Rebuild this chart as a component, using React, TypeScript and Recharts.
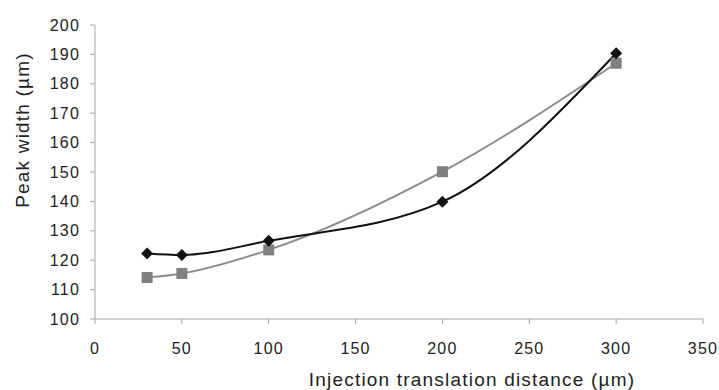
import React from 'react';
import { LineChart, Line, XAxis, YAxis } from 'recharts';

// distance (µm) and peak widths (µm) for the two runs
const distances = [30, 50, 100, 200, 300];
const diamondWidths = [122.3, 121.8, 126.6, 139.9, 190.4];
const squareWidths = [114.1, 115.5, 123.5, 150.1, 187.0];

const xTicks = [0, 50, 100, 150, 200, 250, 300, 350];
const yTicks = [100, 110, 120, 130, 140, 150, 160, 170, 180, 190, 200];

const data = distances.map((d, i) => ({
  distance: d,
  diamond: diamondWidths[i],
  square: squareWidths[i],
}));

const FONT = 'Liberation Sans, Arial, sans-serif';
const AXIS = '#a6a6a6';

const XTick = (props: any) => (
  <text x={props.x} y={props.y} dy={28} textAnchor="middle" fontFamily={FONT} fontSize={16} letterSpacing={1.2} fill="#222">
    {props.payload.value}
  </text>
);

const YTick = (props: any) => (
  <text x={props.x - 8} y={props.y} dy={5.5} textAnchor="end" fontFamily={FONT} fontSize={16} letterSpacing={1.2} fill="#222">
    {props.payload.value}
  </text>
);

const Diamond = (props: any) => {
  const { cx, cy } = props;
  if (cx == null || cy == null) return null;
  const r = 6;
  return <polygon points={`${cx},${cy - r} ${cx + r},${cy} ${cx},${cy + r} ${cx - r},${cy}`} fill="#111" />;
};

const Square = (props: any) => {
  const { cx, cy } = props;
  if (cx == null || cy == null) return null;
  const s = 11;
  return <rect x={cx - s / 2} y={cy - s / 2} width={s} height={s} fill="#808080" />;
};

export default function App() {
  return (
    <div style={{ position: 'absolute', left: 0, top: 0, background: '#fff' }}>
      <LineChart width={719} height={390} data={data} margin={{ top: 25, right: 16, bottom: 0, left: 0 }}>
        <XAxis
          dataKey="distance"
          type="number"
          domain={[0, 350]}
          ticks={xTicks}
          height={71}
          stroke={AXIS}
          tickSize={5}
          tick={<XTick />}
          label={{
            content: () => (
              <text x={472} y={386} textAnchor="middle" fontFamily={FONT} fontSize={19} letterSpacing={1.2} fill="#222">
                Injection translation distance (µm)
              </text>
            ),
          }}
        />
        <YAxis
          type="number"
          domain={[100, 200]}
          ticks={yTicks}
          width={95}
          stroke={AXIS}
          tickSize={5}
          tick={<YTick />}
          label={{
            content: () => (
              <text x={29} y={130} transform="rotate(-90 29 130)" textAnchor="middle" fontFamily={FONT} fontSize={19} letterSpacing={1.2} fill="#222">
                Peak width (µm)
              </text>
            ),
          }}
        />
        <Line type="monotone" dataKey="square" stroke="#8c8c8c" strokeWidth={2} dot={<Square />} isAnimationActive={false} />
        <Line type="monotone" dataKey="diamond" stroke="#111" strokeWidth={2} dot={<Diamond />} isAnimationActive={false} />
      </LineChart>
    </div>
  );
}
